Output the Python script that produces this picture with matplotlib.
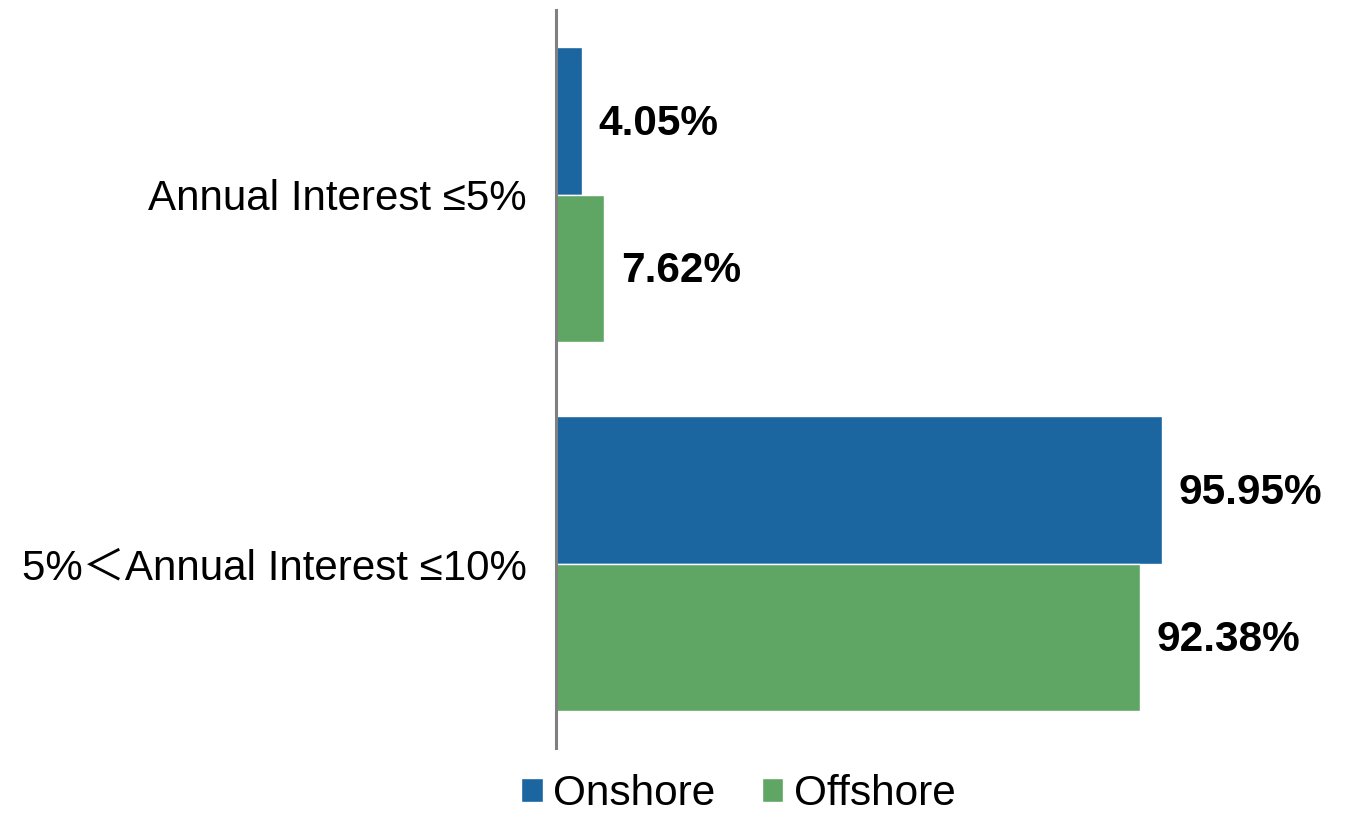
import matplotlib
matplotlib.use('Agg')
import matplotlib.pyplot as plt
import numpy as np

plt.rcParams['font.family'] = ['Liberation Sans', 'Noto Sans CJK SC']

categories = ['Annual Interest ≤5%', '5%＜Annual Interest ≤10%']
onshore = [4.05, 95.95]
offshore = [7.62, 92.38]
series_names = ['Onshore', 'Offshore']
colors = ['#1b65a0', '#5fa664']

fig = plt.figure(figsize=(13.45, 8.16), dpi=100)
ax = fig.add_axes([0.4134, 0.0833, 0.4696, 0.9044])

y = np.arange(len(categories))
h = 0.4
bars_on = ax.barh(y - h / 2, onshore, height=h, color=colors[0],
                  edgecolor='white', linewidth=1, label=series_names[0])
bars_off = ax.barh(y + h / 2, offshore, height=h, color=colors[1],
                   edgecolor='white', linewidth=1, label=series_names[1])

# value labels to the right of each bar
for bars, vals in ((bars_on, onshore), (bars_off, offshore)):
    for b, v in zip(bars, vals):
        ax.annotate(f'{v:.2f}%', (v, b.get_y() + b.get_height() / 2),
                    xytext=(12, -2), textcoords='offset points',
                    ha='left', va='center', fontsize=30.5, fontweight='bold')

ax.set_xlim(0, 100)
ax.set_ylim(1.5, -0.5)
ax.set_yticks(y)
ax.set_yticklabels(categories, fontsize=30.3)
ax.tick_params(axis='y', length=0, pad=21)
ax.set_xticks([])
for s in ('top', 'right', 'bottom'):
    ax.spines[s].set_visible(False)
ax.spines['left'].set_color('#808080')
ax.spines['left'].set_linewidth(2.2)

fig.legend(loc='center', bbox_to_anchor=(0.549, 0.027), ncol=2, frameon=False,
           fontsize=30.5, handlelength=0.5, handleheight=0.5,
           handletextpad=0.25, columnspacing=1.1, borderpad=0.2)

fig.savefig('out.png', dpi=100)
